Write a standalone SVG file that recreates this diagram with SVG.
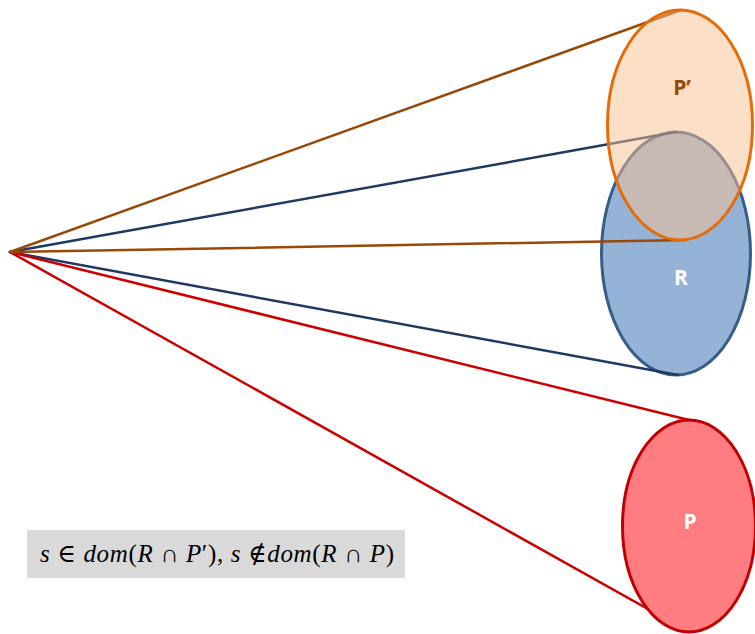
<svg xmlns="http://www.w3.org/2000/svg" width="755" height="634" viewBox="0 0 755 634">
<style>
.ln{fill:none;stroke-width:2.5;stroke-linecap:round}
.brown{stroke:#984807}
.navy{stroke:#1F3864}
.red{stroke:#CC0000}
.lbl{font-family:"Open Sans","Liberation Sans",sans-serif;font-weight:bold;font-size:21px;text-anchor:middle}
.math{font-family:"Liberation Serif","DejaVu Serif",serif;font-size:25px;fill:#000}
</style>
<rect width="755" height="634" fill="#ffffff"/>
<g id="R">
<ellipse cx="676" cy="253.5" rx="74.5" ry="121.5" fill="#95B3D7" stroke="#385D8A" stroke-width="3"/>
</g>
<g id="connectors">
<line class="ln navy" x1="10" y1="252" x2="676" y2="132"/>
<line class="ln navy" x1="10" y1="252" x2="678" y2="375"/>
<line class="ln red" x1="10" y1="252" x2="689" y2="420"/>
<line class="ln red" x1="10" y1="252" x2="689" y2="632"/>
<line class="ln brown" x1="10" y1="252" x2="681" y2="10"/>
<line class="ln brown" x1="10" y1="252" x2="686" y2="240"/>
</g>
<g id="Pprime">
<ellipse cx="680" cy="125" rx="72.5" ry="115" fill="#FAC090" fill-opacity="0.5" stroke="#E46C0A" stroke-width="3"/>
<text class="lbl" x="682" y="95" fill="#984807" font-size="23">P’</text>
</g>
<g id="R-label">
<text class="lbl" x="681" y="285" fill="#ffffff">R</text>
</g>
<g id="P">
<ellipse cx="689" cy="526" rx="66.5" ry="106" fill="#FF7C80" stroke="#C00000" stroke-width="3"/>
<text class="lbl" x="690" y="529" fill="#ffffff">P</text>
</g>
<g id="formula">
<rect x="27" y="530" width="378" height="48" fill="#D9D9D9"/>
<text class="math" x="40" y="562" textLength="354" lengthAdjust="spacing"><tspan font-style="italic">s</tspan> ∈ <tspan font-style="italic">dom</tspan>(<tspan font-style="italic">R</tspan> ∩ <tspan font-style="italic">P</tspan>′), <tspan font-style="italic">s</tspan> <tspan font-style="italic">∉</tspan><tspan font-style="italic">dom</tspan>(<tspan font-style="italic">R</tspan> ∩ <tspan font-style="italic">P</tspan>)</text>
</g>
</svg>
